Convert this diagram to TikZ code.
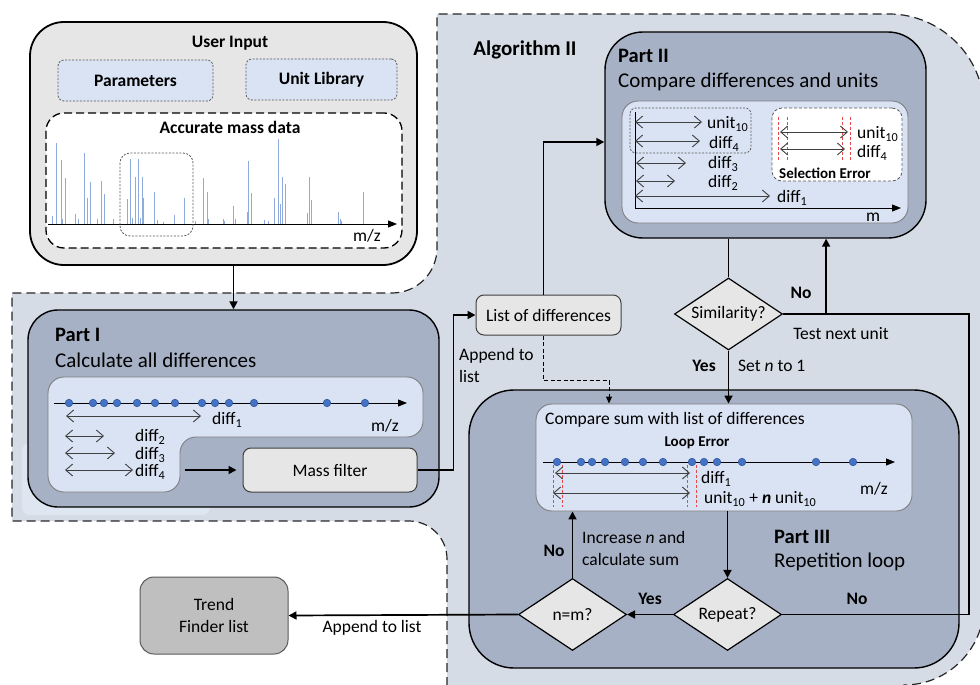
\documentclass[tikz,border=0pt]{standalone}
\usepackage{fontspec}
\setmainfont{Carlito}
\usetikzlibrary{positioning}
\usetikzlibrary{shapes.geometric}
\usetikzlibrary{arrows.meta}

\definecolor{algfill}{HTML}{D6DCE5}
\definecolor{partfill}{HTML}{A6B1C5}
\definecolor{panelfill}{HTML}{DAE3F3}
\definecolor{panelline}{HTML}{7F7F7F}
\definecolor{inputfill}{HTML}{E7E6E6}
\definecolor{trendfill}{HTML}{BFBFBF}
\definecolor{peakblue}{HTML}{8FAADC}
\definecolor{dotblue}{HTML}{4472C4}
\definecolor{dotedge}{HTML}{2F5597}
\definecolor{errred}{HTML}{E5474B}
\definecolor{spangray}{HTML}{404040}
\definecolor{dotgray}{HTML}{595959}
\definecolor{hazefill}{HTML}{DEE7F1}

\begin{document}
\begin{tikzpicture}[x=1pt, y=-1pt,
    every node/.style={font=\fontsize{17.5}{22}\selectfont, inner sep=0pt},
    algarea/.style={fill=algfill, draw=black!85, line width=1.2pt, dash pattern=on 9pt off 5pt},
    inbox/.style={draw=black, line width=1.8pt, fill=inputfill, rounded corners=34pt},
    optbox/.style={draw=dotgray, line width=0.8pt, dash pattern=on 2pt off 1.5pt, fill=panelfill, rounded corners=6pt},
    databox/.style={draw=black, line width=1.3pt, dash pattern=on 8pt off 4pt, fill=white, rounded corners=18pt},
    dotbox/.style={draw=dotgray, line width=0.8pt, dash pattern=on 2pt off 1.5pt},
    selbox/.style={draw=dotgray, line width=0.8pt, dash pattern=on 3pt off 2pt, fill=white, rounded corners=10pt},
    partbox/.style={draw=black, line width=1.4pt, fill=partfill},
    panel/.style={draw=panelline, line width=0.9pt, fill=panelfill, rounded corners=16pt},
    procbox/.style={draw=spangray, line width=1pt, fill=inputfill, rounded corners=8pt},
    trendbox/.style={draw=dotgray, line width=1pt, fill=trendfill, rounded corners=14pt, align=center},
    decide/.style={diamond, draw=black, line width=1.2pt, fill=inputfill, aspect=1.5,
      minimum width=108pt, minimum height=72pt},
    wire/.style={line width=1.7pt},
    flow/.style={line width=1.7pt, -{Triangle[length=8pt,width=8pt]}},
    dashflow/.style={line width=1pt, dash pattern=on 4pt off 2.5pt, -{Triangle[length=7pt,width=6pt]}},
    mzaxis/.style={line width=0.9pt, -{Triangle[length=9pt,width=7pt]}},
    gap/.style={spangray, line width=0.9pt,
      {Straight Barb[length=7pt,width=12pt]}-{Straight Barb[length=7pt,width=12pt]}},
    peak/.style={peakblue, line width=1pt},
    peakdot/.style={fill=dotblue, draw=dotedge, line width=0.5pt},
    errline/.style={errred, line width=0.8pt, dash pattern=on 3pt off 2pt},
    parttitle/.style={font=\fontsize{20.5}{24}\selectfont\bfseries},
    partlead/.style={font=\fontsize{21}{24}\selectfont},
    yesno/.style={font=\fontsize{17.5}{22}\selectfont\bfseries},
    errlabel/.style={font=\fontsize{15}{18}\selectfont\bfseries}]
  \useasboundingbox (0,0) rectangle (980,685);

  % Algorithm II area
  \draw[algarea] (447,700) -- (447,559) .. controls +(0,-21) and +(21,0) .. (409,521)
    -- (12,521) -- (12,293) -- (392,293) .. controls +(25,0) and +(0,25) .. (437,248)
    -- (437,14) -- (889,14) .. controls +(52,0) and +(0,-52) .. (984,109)
    -- (984,605) .. controls +(0,44) and +(44,0) .. (904,685) -- (904,700) -- cycle;
  \node (alg) [parttitle, font=\fontsize{21}{24}\selectfont\bfseries] at (525,50) {Algorithm II};

  % user input
  \node (ui) [inbox, minimum width=387pt, minimum height=243pt] at (223.5,143.5) {};
  \node (uit) [yesno] at (230,43) {User Input};
  \node (par) [optbox, minimum width=155pt, minimum height=41pt] at (135.5,80.5) {\bfseries Parameters};
  \node (lib) [optbox, minimum width=151pt, minimum height=41pt] at (321.5,79.5) {\bfseries Unit Library};
  \node (amd) [databox, minimum width=356pt, minimum height=135pt] at (224,180.5) {};
  \node (amdt) [yesno] at (230,127) {Accurate mass data};
  \foreach \x/\h in {52/8, 56/81, 61/64, 62/5, 65/46, 75/10, 78/5, 84/71, 87/26, 90/42,
      97/5, 101/43, 104/30, 113/5, 127/25, 130/65, 132/6, 135/47, 138/65, 140/6, 142/47,
      143/26, 154/32, 157/4, 163/2, 174/9, 184/26, 195/3, 203/46, 207/32, 208/5, 223/5,
      224/3, 233/18, 235/5, 247/12, 248/63, 251/31, 264/4, 268/3, 274/26, 278/85, 280/20,
      282/47, 285/40, 307/11, 309/47, 311/24, 338/12, 340/5, 341/3, 363/32}
    \draw[peak] (\x,224) -- ++(0,-\h);
  \draw[mzaxis] (48,224) -- (397,224);
  \draw[dotbox, rounded corners=10pt] (120,153) rectangle (193,236);
  \node (mz0) at (367,236) {m/z};

  % Part I
  \fill[hazefill, rounded corners=8pt] (22,443) rectangle (210,515);
  \node (p1) [partbox, rounded corners=30pt, minimum width=411pt, minimum height=197pt] at (233.5,408.5) {};
  \node (p1t) [parttitle, anchor=west] at (55,335) {Part I};
  \node (p1s) [partlead, anchor=west] at (55,360) {Calculate all differences};
  \draw[panel] (48,377) -- (423,377) -- (423,437) -- (180,437) -- (180,492) -- (48,492) -- cycle;
  \draw[mzaxis] (54,403) -- (407,403);
  \foreach \x in {69,93,104,117,137,155,175,202,215,229,254,327,365}
    \filldraw[peakdot] (\x,403) circle (3.8pt);
  \draw[gap] (66,416) -- (201,416);
  \node (d1a) [anchor=west] at (212,420) {diff\textsubscript{1}};
  \node (mz1) at (385,426) {m/z};
  \draw[gap] (65,436) -- (104,436);
  \node (d2a) [anchor=west] at (135,437) {diff\textsubscript{2}};
  \draw[gap] (65,453) -- (115,453);
  \node (d3a) [anchor=west] at (135,455) {diff\textsubscript{3}};
  \draw[gap] (65,470) -- (133,470);
  \node (d4a) [anchor=west] at (135,472) {diff\textsubscript{4}};
  \node (mf) [procbox, minimum width=174pt, minimum height=44pt] at (330,470) {Mass filter};
  \draw[flow] ([xshift=-58pt]mf.west) -- ([xshift=-6pt]mf.west);
  \draw[flow] (ui.south -| p1.north) -- (p1.north);

  % list of differences
  \node (lod) [procbox, minimum width=145pt, minimum height=40pt] at (548.5,315) {List of differences};
  \draw[flow] (mf.east) -- ++(36,0) |- (lod.west);
  \node (app1) [anchor=west, align=left] at (459,365) {Append to\\list};

  % Part II
  \node (p2) [partbox, rounded corners=38pt, minimum width=321pt, minimum height=206pt] at (765.5,135) {};
  \node (p2t) [parttitle, anchor=west] at (618,56) {Part II};
  \node (p2s) [partlead, anchor=west] at (618,82) {Compare differences and units};
  \node (p2in) [panel, minimum width=286pt, minimum height=122pt] at (765,162) {};
  \draw[dotbox, rounded corners=6pt] (630,108) rectangle (751,153);
  \node (sel) [selbox, minimum width=130pt, minimum height=73pt] at (837,144.5) {};
  \node (selt) [errlabel] at (825,173) {Selection Error};
  \draw[mzaxis] (635,112) |- (901,208);
  \node (m2) at (873,217) {m};
  \draw[gap] (635,122) -- (702,122);
  \node (u2) [anchor=west] at (707,124) {unit\textsubscript{10}};
  \draw[gap] (635,141) -- (700,141);
  \node (d4b) [anchor=west] at (709,144) {diff\textsubscript{4}};
  \draw[gap] (636,163) -- (686,163);
  \node (d3b) [anchor=west] at (708,164) {diff\textsubscript{3}};
  \draw[gap] (636,181) -- (675,181);
  \node (d2b) [anchor=west] at (708,183) {diff\textsubscript{2}};
  \draw[gap] (635,196) -- (770,196);
  \node (d1b) [anchor=west] at (777,198) {diff\textsubscript{1}};
  \foreach \x in {778,787,842,850} \draw[errline] (\x,117) -- (\x,162);
  \draw[gap] (780,132) -- (848,132);
  \draw[gap] (780,149) -- (845,149);
  \node (u2e) [anchor=west] at (857,134) {unit\textsubscript{10}};
  \node (d4e) [anchor=west] at (857,153) {diff\textsubscript{4}};
  \draw[flow] ([xshift=-5pt]lod.north) |- ([yshift=-7pt]p2.west);

  % similarity check
  \node (sim) [decide] at (728.5,314) {Similarity?};
  \draw[wire] (sim.north) -- (sim.north |- p2.south);
  \node (no1) [yesno] at (801,293) {No};
  \node (tnu) at (841,334) {Test next unit};
  \node (yes1) [yesno] at (704,366) {Yes};
  \node (setn) [base right=22pt of yes1] {Set \textit{n} to 1};

  % Part III
  \node (p3) [partbox, rounded corners=45pt, minimum width=490pt, minimum height=278pt] at (714,529) {};
  \node (p3t) [parttitle, anchor=west] at (774,537) {Part III};
  \node (p3s) [partlead, anchor=west] at (774,562) {Repetition loop};
  \node (p3in) [panel, minimum width=376pt, minimum height=107pt] at (724,457.5) {};
  \node (p3it) [anchor=west] at (545,420) {Compare sum with list of differences};
  \node (loop) [errlabel] at (697,443) {Loop Error};
  \draw[mzaxis] (543,462) -- (895,462);
  \foreach \x in {557,581,592,605,625,643,663,692,704,717,742,816,853}
    \filldraw[peakdot] (\x,462) circle (3.8pt);
  \foreach \x in {553,562,687,696} \draw[errline] (\x,465) -- (\x,507);
  \draw[gap] (555,473) -- (690,473);
  \draw[gap] (553,493) -- (690,493);
  \node (d1c) [anchor=west] at (701,479) {diff\textsubscript{1}};
  \node (sumc) [anchor=west] at (704,499) {unit\textsubscript{10} + \textbf{\textit{n}} unit\textsubscript{10}};
  \node (mz3) at (874,489) {m/z};
  \draw[flow] (sim.south) -- (sim.south |- p3in.north);
  \draw[dashflow] ([xshift=-5pt]lod.south) -- ++(0,45) -| ([xshift=-115pt]p3in.north);

  % repetition decisions
  \node (rep) [decide] at (727.5,614.5) {Repeat?};
  \node (nm) [decide] at (572.5,614.5) {n=m?};
  \draw[flow] (rep.north |- p3in.south) -- (rep.north);
  \draw[flow] (nm.north) -- (nm.north |- p3in.south);
  \draw[flow] (rep.west) -- (nm.east);
  \node (no2) [yesno] at (554,551) {No};
  \node (incr) [anchor=west, align=left] at (582,548) {Increase \textit{n} and\\calculate sum};
  \node (yes2) [yesno] at (650,599) {Yes};
  \node (no3) [yesno] at (857,599) {No};
  \draw[wire] (rep.east) -- ++(187,0) |- (sim.east);
  \draw[flow] ([xshift=43pt]sim.east) -- ([xshift=43pt]sim.east |- p2.south);

  % output
  \node (tfl) [trendbox, minimum width=148pt, minimum height=77pt] at (214,615.5) {Trend\\Finder list};
  \draw[flow] (nm.west) -- (tfl.east);
  \node (app2) at (372,628) {Append to list};
\end{tikzpicture}
\end{document}
